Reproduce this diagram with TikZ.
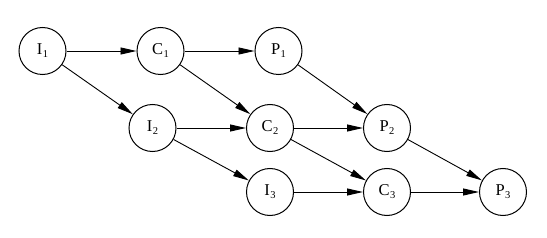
\documentclass[tikz,border=0pt]{standalone}
\usepackage{fontspec}
\setmainfont{Liberation Serif}
\usetikzlibrary{arrows.meta}
\newcommand{\lbl}[2]{#1\kern0.5pt\raisebox{-3pt}{\fontsize{10.5}{10.5}\selectfont #2}}
\begin{document}
\begin{tikzpicture}[x=1pt,y=-1pt,
  st/.style={circle,draw,line width=1pt,minimum size=47pt,inner sep=0pt,font=\fontsize{16.5}{16.5}\selectfont},
  ar/.style={line width=0.9pt,-{Triangle[length=16pt,width=7pt]}}]
\useasboundingbox (0,0) rectangle (547,238);
\node[st] (I1) at (42.5,51) {\lbl{I}{1}};
\node[st] (C1) at (160.5,51) {\lbl{C}{1}};
\node[st] (P1) at (278.5,51) {\lbl{P}{1}};
\node[st] (I2) at (152.5,128) {\lbl{I}{2}};
\node[st] (C2) at (270,128) {\lbl{C}{2}};
\node[st] (P2) at (387,128) {\lbl{P}{2}};
\node[st] (I3) at (270,192) {\lbl{I}{3}};
\node[st] (C3) at (387,192) {\lbl{C}{3}};
\node[st] (P3) at (503,192) {\lbl{P}{3}};
\draw[ar] (I1) -- (C1);
\draw[ar] (C1) -- (P1);
\draw[ar] (I1) -- (I2);
\draw[ar] (C1) -- (C2);
\draw[ar] (P1) -- (P2);
\draw[ar] (I2) -- (C2);
\draw[ar] (C2) -- (P2);
\draw[ar] (I2) -- (I3);
\draw[ar] (C2) -- (C3);
\draw[ar] (P2) -- (P3);
\draw[ar] (I3) -- (C3);
\draw[ar] (C3) -- (P3);
\end{tikzpicture}
\end{document}
